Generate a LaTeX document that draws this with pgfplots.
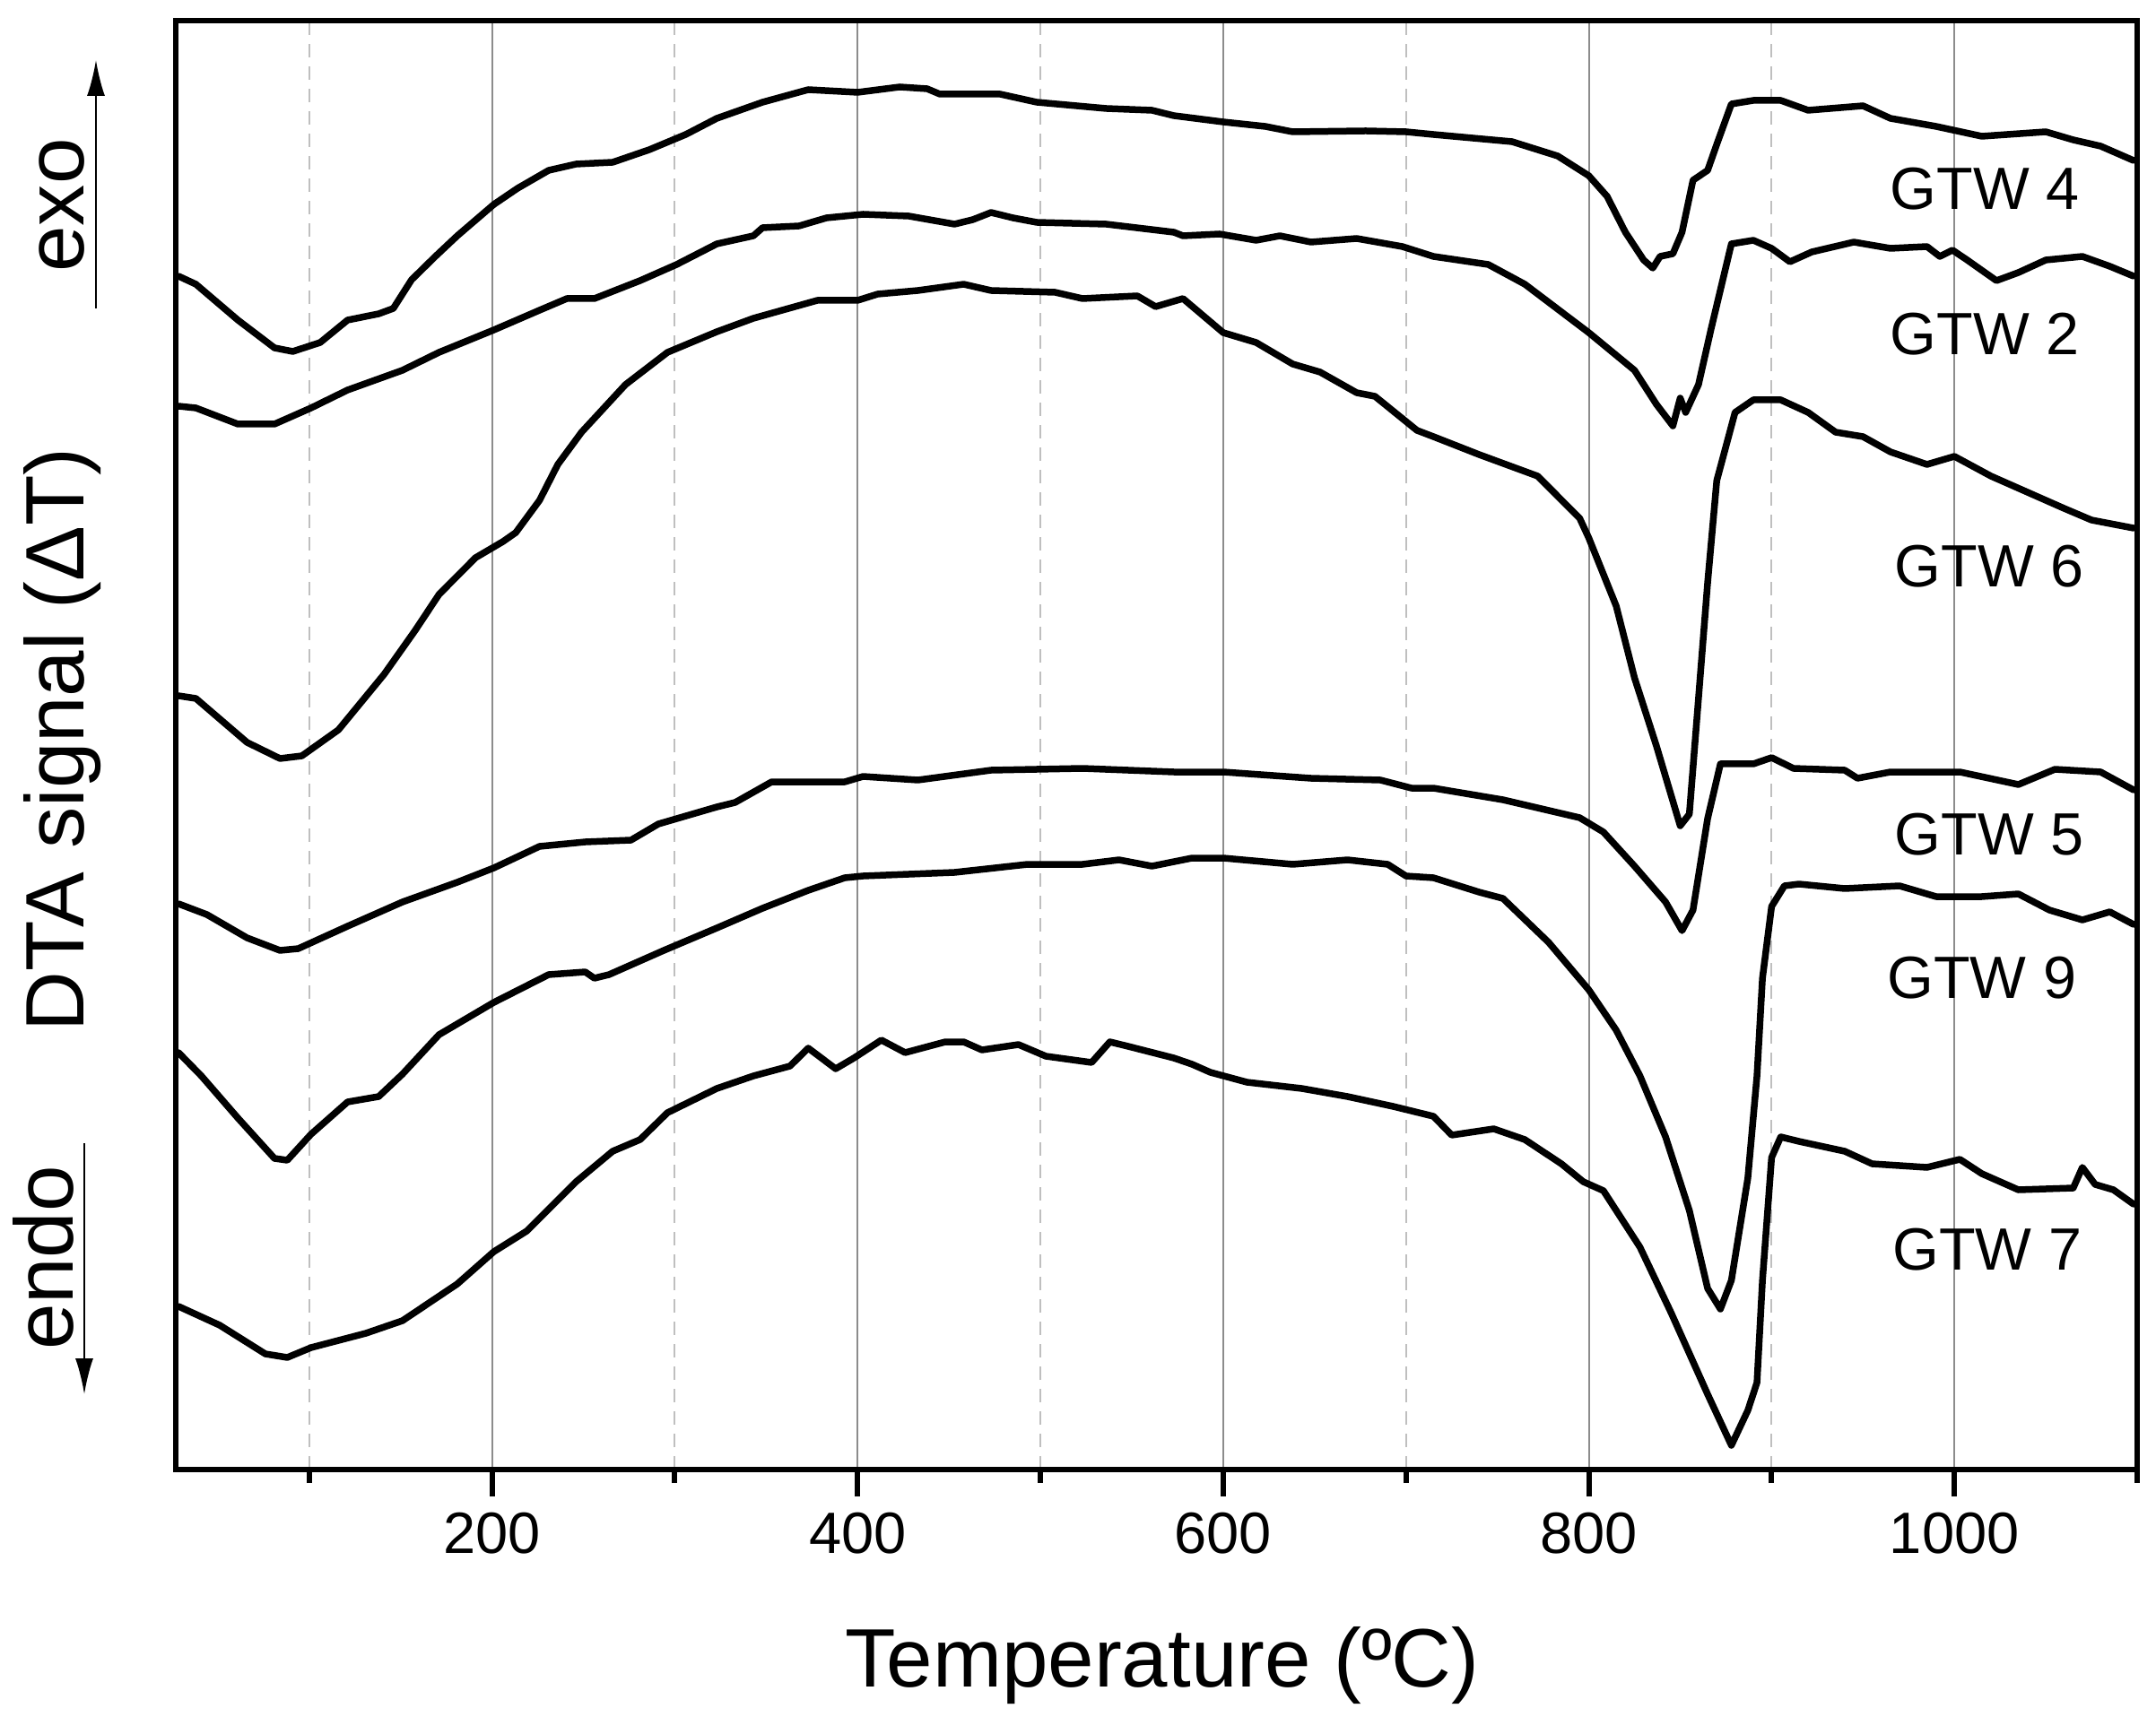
\documentclass[border=0pt]{standalone}
\usepackage{pgfplots}
\pgfplotsset{compat=1.18}
\usepackage{fontspec}
\setmainfont{Liberation Sans}
\usetikzlibrary{arrows.meta}
\begin{document}
\begin{tikzpicture}[dta/.style={draw=black, line width=1.5pt, line join=round, line cap=round, mark=none}]
\begin{axis}[
  at={(0,0)}, anchor=south west,
  scale only axis, width=437.4pt, height=323.2pt,
  xmin=27, xmax=1100, ymin=-1639, ymax=-23,
  axis line style={line width=1.2pt},
  xtick={200,400,600,800,1000},
  minor xtick={100,300,500,700,900,1100},
  ytick=\empty,
  xtick pos=bottom, tick align=outside,
  major tick length=6pt, minor tick length=3pt,
  tick style={black, line width=1.2pt},
  xmajorgrids, xminorgrids,
  major grid style={draw=black!45, line width=0.4pt},
  minor grid style={draw=black!25, line width=0.4pt, dash pattern=on 3pt off 2pt},
  /pgf/number format/assume math mode=true,
  /pgf/number format/set thousands separator={},
  ticklabel style={font=\fontsize{13}{15}\selectfont},
  clip mode=individual,
]
% GTW 4
\addplot[dta] coordinates {(28.5,-308) (38,-317) (61,-357) (81,-388) (91,-392) (106,-382) (121,-357) (138,-350) (146,-344) (156,-312) (169,-286) (181,-263) (201,-228) (214,-210) (231,-190) (246,-183) (266,-181) (286,-167) (306,-150) (323,-132) (348,-114) (373,-100) (400,-103) (423,-97) (438,-99) (445,-105) (478,-105) (498,-114) (536,-121) (561,-123) (573,-129) (600,-136) (623,-141) (638,-147) (678,-146) (700,-147) (715,-150) (758,-158) (783,-174) (800,-196) (810,-219) (820,-259) (830,-290) (835,-299) (839,-286) (846,-283) (851,-259) (857,-201) (865,-190) (870,-161) (878,-116) (890,-112) (905,-112) (920,-123) (950,-118) (965,-132) (990,-141) (1015,-152) (1050,-147) (1065,-156) (1080,-163) (1098,-179)};
% GTW 2
\addplot[dta] coordinates {(28.5,-453) (38,-455) (61,-473) (81,-473) (101,-455) (121,-435) (151,-413) (171,-393) (201,-368) (226,-346) (241,-333) (256,-333) (281,-313) (301,-295) (323,-272) (343,-263) (348,-254) (368,-252) (383,-243) (403,-239) (428,-241) (453,-250) (463,-245) (473,-237) (485,-243) (498,-248) (536,-250) (573,-259) (578,-263) (598,-261) (618,-268) (631,-263) (648,-270) (673,-266) (698,-275) (715,-286) (745,-295) (765,-317) (800,-371) (825,-413) (837,-451) (846,-475) (850,-444) (853,-460) (860,-429) (867,-366) (878,-272) (890,-268) (900,-277) (910,-292) (922,-281) (945,-270) (965,-277) (985,-275) (992,-286) (999,-279) (1007,-290) (1023,-313) (1035,-304) (1050,-290) (1070,-286) (1085,-297) (1098,-308)};
% GTW 6
\addplot[dta] coordinates {(28.5,-776) (38,-779) (66,-828) (84,-846) (96,-843) (116,-814) (141,-752) (158,-703) (171,-663) (191,-622) (206,-604) (213,-594) (226,-558) (236,-518) (249,-482) (273,-429) (296,-393) (323,-370) (343,-355) (378,-335) (400,-335) (411,-328) (433,-324) (458,-317) (473,-324) (508,-326) (523,-333) (553,-330) (563,-342) (578,-333) (600,-371) (618,-382) (638,-406) (653,-415) (673,-438) (683,-442) (706,-480) (715,-487) (740,-507) (772,-531) (795,-578) (800,-600) (815,-676) (825,-756) (837,-832) (850,-921) (855,-908) (860,-779) (865,-650) (870,-536) (880,-460) (890,-446) (905,-446) (920,-460) (935,-482) (950,-487) (965,-504) (985,-518) (1000,-509) (1020,-531) (1040,-549) (1060,-567) (1075,-580) (1098,-589)};
% GTW 5
\addplot[dta] coordinates {(28.5,-1008) (44,-1020) (66,-1046) (84,-1060) (94,-1058) (121,-1033) (151,-1006) (181,-984) (201,-968) (226,-944) (251,-939) (276,-937) (291,-919) (323,-900) (333,-895) (353,-872) (393,-872) (403,-866) (433,-870) (473,-859) (523,-857) (573,-861) (600,-861) (648,-868) (686,-870) (703,-879) (715,-879) (753,-892) (795,-912) (808,-928) (825,-966) (842,-1006) (851,-1038) (857,-1015) (865,-913) (872,-852) (890,-852) (900,-845) (912,-857) (940,-859) (947,-868) (965,-861) (1003,-861) (1035,-875) (1055,-858) (1080,-861) (1098,-881)};
% GTW 9
\addplot[dta] coordinates {(28.5,-1174) (41,-1200) (61,-1247) (81,-1292) (88,-1294) (101,-1265) (121,-1229) (138,-1223) (151,-1198) (171,-1154) (201,-1118) (231,-1087) (251,-1084) (256,-1091) (264,-1087) (294,-1060) (323,-1035) (348,-1013) (373,-993) (393,-979) (403,-977) (453,-973) (493,-964) (523,-964) (543,-959) (561,-966) (583,-957) (600,-957) (638,-964) (668,-959) (690,-964) (700,-977) (715,-979) (740,-995) (753,-1002) (778,-1051) (800,-1104) (815,-1149) (828,-1200) (842,-1268) (855,-1350) (865,-1437) (872,-1460) (878,-1428) (887,-1314) (892,-1200) (895,-1091) (900,-1011) (907,-988) (915,-986) (940,-991) (970,-988) (990,-1000) (1015,-1000) (1035,-997) (1052,-1015) (1070,-1026) (1085,-1017) (1098,-1031)};
% GTW 7
\addplot[dta] coordinates {(28.5,-1457) (51,-1478) (76,-1510) (88,-1514) (101,-1503) (131,-1487) (151,-1473) (181,-1432) (201,-1396) (219,-1373) (246,-1318) (266,-1284) (281,-1271) (296,-1241) (323,-1214) (343,-1200) (363,-1189) (373,-1169) (388,-1192) (398,-1180) (413,-1160) (426,-1174) (448,-1162) (458,-1162) (468,-1171) (488,-1165) (503,-1178) (528,-1185) (538,-1162) (548,-1167) (573,-1180) (583,-1187) (593,-1196) (613,-1207) (643,-1214) (668,-1223) (693,-1234) (715,-1245) (725,-1266) (748,-1259) (765,-1271) (785,-1298) (797,-1318) (808,-1328) (828,-1391) (845,-1464) (865,-1555) (878,-1612) (887,-1573) (892,-1542) (895,-1428) (900,-1291) (905,-1268) (915,-1273) (940,-1284) (955,-1298) (985,-1302) (1003,-1293) (1015,-1309) (1035,-1327) (1065,-1325) (1070,-1302) (1077,-1321) (1087,-1327) (1098,-1343)};
\begin{scope}[every node/.style={font=\fontsize{13.3}{15}\selectfont, anchor=base, inner sep=0pt}]
\node at (axis cs:1016.7,-234) {GTW 4};
\node at (axis cs:1016.7,-396) {GTW 2};
\node at (axis cs:1019,-655) {GTW 6};
\node at (axis cs:1019,-953) {GTW 5};
\node at (axis cs:1015,-1113) {GTW 9};
\node at (axis cs:1018,-1416) {GTW 7};
\end{scope}
\end{axis}
% axis titles and exo/endo markers (axis origin at 0,0; 0.2pt per reference pixel)
\node[font=\fontsize{18.5}{20}\selectfont, anchor=base, inner sep=0pt] at (220pt,-48.4pt) {Temperature (ºC)};
\node[font=\fontsize{18.5}{20}\selectfont, anchor=base, inner sep=0pt, rotate=90] at (-20.4pt,162.8pt) {DTA signal (ΔT)};
\node[font=\fontsize{18.5}{20}\selectfont, anchor=base, inner sep=0pt, rotate=90] at (-20.4pt,282pt) {exo};
\node[font=\fontsize{18.5}{20}\selectfont, anchor=base, inner sep=0pt, rotate=90] at (-22.8pt,47.2pt) {endo};
\draw[line width=0.45pt, -{Latex[length=8pt,width=4pt]}] (-17.8pt,259pt) -- (-17.8pt,314.4pt);
\draw[line width=0.45pt, -{Latex[length=8pt,width=4pt]}] (-20.4pt,72.8pt) -- (-20.4pt,16.8pt);
\pgfresetboundingbox
\path (-39.2pt,-55pt) rectangle (441.6pt,327.8pt);
\end{tikzpicture}
\end{document}
